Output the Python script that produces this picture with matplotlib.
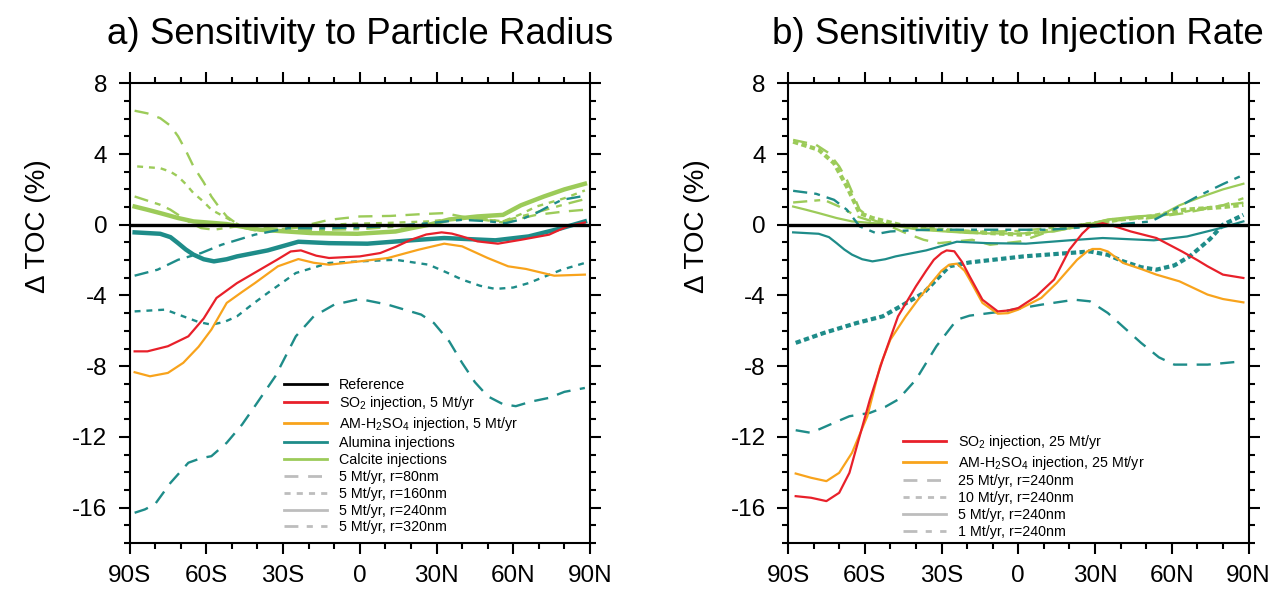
import numpy as np
import matplotlib
matplotlib.use('Agg')
import matplotlib.pyplot as plt
from matplotlib.lines import Line2D
from matplotlib.ticker import MultipleLocator

plt.rcParams['font.family'] = ['Liberation Sans', 'DejaVu Sans']
plt.rcParams['mathtext.fontset'] = 'custom'
plt.rcParams['mathtext.rm'] = 'Liberation Sans'
plt.rcParams['axes.unicode_minus'] = False

RED = '#e8202a'
ORANGE = '#f8a31c'
TEAL = '#1e8c89'
GREEN = '#9ccb59'
GREY = '#bdbdbd'

# ---- panel a: 5 Mt/yr, different radii ----
so2_a_lat = [-88, -83, -75, -67, -61, -56, -48, -39, -32, -27, -23, -17, -12, 0, 8, 14, 20, 26, 32, 36,
             40, 46, 54, 63, 74, 81, 88]
so2_a_val = [-7.16, -7.16, -6.87, -6.31, -5.3, -4.14, -3.30, -2.54, -1.95, -1.51, -1.45, -1.75, -1.88,
             -1.79, -1.60, -1.25, -0.85, -0.55, -0.43, -0.5, -0.66, -0.94, -1.07, -0.85, -0.56, -0.10, 0.13]

am_a_lat = [-88, -82, -75, -69, -63, -58, -52, -46, -41, -32, -24, -18, -12, 0, 11, 23, 33, 40, 45,
            50, 58, 65, 76, 88]
am_a_val = [-8.34, -8.57, -8.38, -7.81, -6.9, -5.93, -4.42, -3.8, -3.30, -2.35, -1.94, -2.15, -2.26,
            -2.07, -1.88, -1.41, -1.07, -1.22, -1.55, -1.88, -2.35, -2.50, -2.88, -2.82]

alu80_lat = [-88, -84, -80, -74, -67, -62, -58, -52, -46, -41, -33, -25, -18, -10, 0, 11, 24, 29, 35,
             40, 45, 50, 56, 61, 67, 74, 80, 88]
alu80_val = [-16.29, -16.1, -15.8, -14.6, -13.46, -13.2, -13.09, -12.33, -11.3, -10.26, -8.57, -6.31,
             -5.18, -4.52, -4.20, -4.52, -5.08, -5.56, -6.6, -7.81, -8.9, -9.70, -10.15, -10.26, -10.0,
             -9.79, -9.45, -9.23]

alu160_lat = [-88, -76, -69, -63, -58, -53, -48, -42, -36, -25, -12, 0, 14, 27, 34, 40, 47, 53, 60,
              66, 79, 88]
alu160_val = [-4.9, -4.8, -5.18, -5.5, -5.65, -5.5, -5.18, -4.5, -3.86, -2.73, -2.16, -2.07, -1.98,
              -2.26, -2.7, -3.10, -3.45, -3.63, -3.55, -3.30, -2.54, -2.16]

alu240_lat = [-88, -78, -74, -71, -68, -65, -61, -57, -52, -48, -36, -24, -12, 3, 20, 33, 53, 66, 79, 88]
alu240_val = [-0.43, -0.51, -0.7, -1.04, -1.4, -1.69, -1.95, -2.07, -1.95, -1.79, -1.45, -0.96, -1.04,
              -1.07, -0.88, -0.75, -0.88, -0.66, -0.19, 0.19]

alu320_lat = [-88, -79, -71, -62, -54, -41, -28, -15, 0, 15, 27, 40, 50, 57, 63, 69, 74, 79, 88]
alu320_val = [-2.88, -2.54, -1.98, -1.6, -1.13, -0.56, -0.19, -0.2, -0.15, -0.05, 0.09, 0.28, 0.2,
              0.09, 0.3, 0.66, 1.05, 1.41, 1.64]

cal80_lat = [-88, -83, -78, -74, -71, -68, -65, -61, -58, -55, -52, -48, -45, -39, -30, -20, -12, 0,
             12, 24, 33, 43, 56, 69, 80, 88]
cal80_val = [6.45, 6.3, 6.03, 5.6, 5.0, 4.2, 3.3, 2.4, 1.6, 1.0, 0.47, 0.05, -0.19, -0.38, -0.3, 0.0,
             0.28, 0.47, 0.5, 0.6, 0.66, 0.38, 0.13, 0.56, 0.75, 0.85]

cal160_lat = [-87, -78, -74, -71, -68, -65, -61, -58, -52, -45, -35, -20, -5, 10, 27, 43, 56, 63, 69,
              80, 88]
cal160_val = [3.3, 3.2, 3.0, 2.73, 2.3, 1.79, 1.3, 0.85, 0.38, -0.19, -0.3, -0.1, 0.05, 0.1, 0.19,
              0.43, 0.19, 0.6, 1.03, 1.5, 1.94]

cal240_lat = [-88, -83, -78, -71, -65, -52, -39, -19, -1, 14, 20, 27, 35, 46, 56, 63, 72, 80, 88]
cal240_val = [1.03, 0.85, 0.66, 0.38, 0.19, 0.04, -0.28, -0.47, -0.51, -0.38, -0.2, 0.0, 0.3, 0.47,
              0.56, 1.1, 1.6, 2.0, 2.32]

cal320_lat = [-88, -78, -74, -70, -66, -62, -57, -48, -35, -20, 0, 20, 35, 45, 56, 69, 80, 88]
cal320_val = [1.6, 1.13, 0.85, 0.47, 0.1, -0.19, -0.28, -0.09, -0.2, -0.3, -0.25, -0.05, 0.25, 0.35,
              0.2, 0.7, 1.15, 1.45]

# ---- panel b: r=240nm, different injection rates ----
so2_b_lat = [-87, -81, -75, -70, -66, -62, -58, -53, -47, -40, -36, -33, -30, -28, -25, -22, -19, -14,
             -8, -4, 0, 7, 14, 20, 25, 28, 33, 38, 44, 54, 64, 70, 74, 80, 88]
so2_b_val = [-15.35, -15.44, -15.63, -15.16, -14.03, -11.96, -9.89, -7.63, -5.18, -3.48, -2.6, -1.98,
             -1.6, -1.45, -1.5, -2.1, -2.92, -4.24, -4.90, -4.85, -4.71, -4.05, -3.10, -1.41, -0.5,
             -0.09, 0.09, -0.1, -0.38, -0.75, -1.51, -2.0, -2.35, -2.82, -3.01]

am_b_lat = [-87, -81, -75, -70, -65, -59, -54, -50, -44, -39, -34, -30, -27, -24, -21, -19, -14, -8,
            -4, 0, 9, 15, 23, 27, 29, 32, 35, 41, 48, 54, 63, 74, 80, 88]
am_b_val = [-14.07, -14.31, -14.5, -14.03, -12.9, -10.83, -8.0, -6.5, -5.18, -4.2, -3.30, -2.6, -2.26,
            -2.2, -2.6, -3.10, -4.42, -5.03, -5.0, -4.80, -4.14, -3.30, -1.98, -1.5, -1.37, -1.37,
            -1.51, -2.16, -2.5, -2.82, -3.20, -3.95, -4.2, -4.39]

alu25_lat = [-87, -81, -72, -66, -58, -52, -47, -40, -32, -24, -19, -6, 9, 22, 28, 35, 42, 48, 55, 61,
             74, 88]
alu25_val = [-11.62, -11.77, -11.2, -10.83, -10.64, -10.3, -9.89, -8.76, -6.87, -5.37, -5.14, -4.9,
             -4.52, -4.24, -4.33, -4.99, -5.9, -6.68, -7.5, -7.91, -7.91, -7.72]

alu10_lat = [-87, -76, -63, -53, -46, -37, -30, -27, -19, 2, 28, 35, 41, 48, 54, 61, 67, 71, 75, 80, 88]
alu10_val = [-6.68, -6.12, -5.55, -5.18, -4.61, -3.86, -2.8, -2.35, -2.13, -1.79, -1.51, -1.7, -2.07,
             -2.4, -2.54, -2.3, -1.79, -1.3, -0.8, 0.0, 0.56]

alu1_lat = [-88, -79, -72, -67, -62, -55, -50, -40, -24, 1, 12, 30, 52, 60, 70, 80, 88]
alu1_val = [1.92, 1.75, 1.41, 0.85, -0.09, -0.51, -0.38, -0.3, -0.28, -0.28, -0.28, -0.1, 0.19, 0.8,
            1.6, 2.3, 2.82]

cal25_lat = [-88, -79, -74, -70, -67, -62, -57, -50, -44, -37, -31, -18, -11, 1, 12, 25, 39, 50, 65,
             80, 88]
cal25_val = [4.8, 4.52, 4.05, 3.3, 2.54, 0.85, 0.28, -0.09, -0.47, -0.85, -1.04, -0.85, -1.13, -0.94,
             -0.38, 0.0, 0.38, 0.35, 0.66, 1.1, 1.5]

cal10_lat = [-88, -78, -72, -67, -62, -57, -44, -31, -11, 1, 14, 26, 40, 52, 65, 80, 88]
cal10_val = [4.7, 4.24, 3.48, 2.16, 0.66, 0.38, -0.09, -0.28, -0.47, -0.56, -0.3, 0.0, 0.3, 0.47, 0.85,
             1.0, 1.13]

cal1_lat = [-88, -76, -70, -63, -57, -44, -30, -15, 0, 15, 30, 45, 60, 75, 88]
cal1_val = [1.26, 1.41, 1.03, 0.47, 0.19, -0.09, -0.3, -0.4, -0.35, -0.15, 0.1, 0.35, 0.6, 1.0, 1.25]

xticks = [-90, -60, -30, 0, 30, 60, 90]
xticklabels = ['90S', '60S', '30S', '0', '30N', '60N', '90N']
yticks = [-16, -12, -8, -4, 0, 4, 8]

# line styles
LONG = (0, (6, 4))
SHORT = (0, (2.5, 2.5))
DDOT = (0, (6, 3, 2.5, 3))
DOTS = (0, (1.3, 0.8))


def style_axes(ax, title):
    ax.set_xlim(-90, 90)
    ax.set_ylim(-18, 8)
    ax.set_xticks(xticks)
    ax.set_xticklabels(xticklabels)
    ax.set_yticks(yticks)
    ax.xaxis.set_minor_locator(MultipleLocator(10))
    ax.yaxis.set_minor_locator(MultipleLocator(1))
    ax.tick_params(which='both', direction='out', top=True, right=True, width=1.5,
                   labelsize=17.5, pad=8)
    ax.tick_params(which='major', length=8)
    ax.tick_params(which='minor', length=4.5)
    for s in ax.spines.values():
        s.set_linewidth(1.5)
    ax.set_ylabel('Δ TOC (%)', fontsize=20)
    ax.yaxis.set_label_coords(-0.17, 0.69)
    ax.set_title(title, fontsize=26.5, pad=28)


fig = plt.figure(figsize=(12.71, 5.93), dpi=100)
ax1 = fig.add_axes([0.1019, 0.0843, 0.3623, 0.7752])
ax2 = fig.add_axes([0.6200, 0.0843, 0.3623, 0.7752])

# panel a
ax1.axhline(0, color='black', lw=2.4, zorder=5)
ax1.plot(cal80_lat, cal80_val, color=GREEN, lw=1.7, ls=LONG)
ax1.plot(cal160_lat, cal160_val, color=GREEN, lw=1.7, ls=SHORT)
ax1.plot(cal320_lat, cal320_val, color=GREEN, lw=1.7, ls=DDOT)
ax1.plot(cal240_lat, cal240_val, color=GREEN, lw=3.2)
ax1.plot(alu80_lat, alu80_val, color=TEAL, lw=1.7, ls=LONG)
ax1.plot(alu160_lat, alu160_val, color=TEAL, lw=1.7, ls=SHORT)
ax1.plot(alu320_lat, alu320_val, color=TEAL, lw=1.7, ls=DDOT)
ax1.plot(alu240_lat, alu240_val, color=TEAL, lw=3.2)
ax1.plot(am_a_lat, am_a_val, color=ORANGE, lw=1.6)
ax1.plot(so2_a_lat, so2_a_val, color=RED, lw=1.6)
style_axes(ax1, 'a) Sensitivity to Particle Radius')

h1 = [Line2D([], [], color='black', lw=2),
      Line2D([], [], color=RED, lw=2),
      Line2D([], [], color=ORANGE, lw=2),
      Line2D([], [], color=TEAL, lw=2),
      Line2D([], [], color=GREEN, lw=2),
      Line2D([], [], color=GREY, lw=2, ls=(0, (5, 3.5))),
      Line2D([], [], color=GREY, lw=2, ls=(0, (2.2, 2.2))),
      Line2D([], [], color=GREY, lw=2),
      Line2D([], [], color=GREY, lw=2, ls=(0, (5, 3, 2.2, 3)))]
l1 = ['Reference', 'SO$_\\mathregular{2}$ injection, 5 Mt/yr',
      'AM-H$_\\mathregular{2}$SO$_\\mathregular{4}$ injection, 5 Mt/yr',
      'Alumina injections', 'Calcite injections',
      '5 Mt/yr, r=80nm', '5 Mt/yr, r=160nm', '5 Mt/yr, r=240nm', '5 Mt/yr, r=320nm']
ax1.legend(h1, l1, loc='upper left', bbox_to_anchor=(0.335, 0.36), frameon=False,
           fontsize=10.3, handlelength=3.0, handletextpad=0.85, labelspacing=0.2, borderpad=0,
           borderaxespad=0)

# panel b
ax2.axhline(0, color='black', lw=2.4, zorder=5)
ax2.plot(cal25_lat, cal25_val, color=GREEN, lw=1.7, ls=LONG)
ax2.plot(cal10_lat, cal10_val, color=GREEN, lw=3.0, ls=DOTS)
ax2.plot(cal1_lat, cal1_val, color=GREEN, lw=1.7, ls=DDOT)
ax2.plot(cal240_lat, cal240_val, color=GREEN, lw=1.6)
ax2.plot(alu25_lat, alu25_val, color=TEAL, lw=1.7, ls=LONG)
ax2.plot(alu10_lat, alu10_val, color=TEAL, lw=3.0, ls=DOTS)
ax2.plot(alu1_lat, alu1_val, color=TEAL, lw=1.7, ls=DDOT)
ax2.plot(alu240_lat, alu240_val, color=TEAL, lw=1.6)
ax2.plot(am_b_lat, am_b_val, color=ORANGE, lw=1.6)
ax2.plot(so2_b_lat, so2_b_val, color=RED, lw=1.6)
style_axes(ax2, 'b) Sensitivitiy to Injection Rate')

h2 = [Line2D([], [], color=RED, lw=2),
      Line2D([], [], color=ORANGE, lw=2),
      Line2D([], [], color=GREY, lw=2, ls=(0, (5, 3.5))),
      Line2D([], [], color=GREY, lw=2, ls=(0, (2.2, 2.2))),
      Line2D([], [], color=GREY, lw=2),
      Line2D([], [], color=GREY, lw=2, ls=(0, (5, 3, 2.2, 3)))]
l2 = ['SO$_\\mathregular{2}$ injection, 25 Mt/yr',
      'AM-H$_\\mathregular{2}$SO$_\\mathregular{4}$ injection, 25 Mt/yr',
      '25 Mt/yr, r=240nm', '10 Mt/yr, r=240nm', '5 Mt/yr, r=240nm', '1 Mt/yr, r=240nm']
ax2.legend(h2, l2, loc='upper left', bbox_to_anchor=(0.25, 0.24), frameon=False,
           fontsize=10.3, handlelength=3.0, handletextpad=0.85, labelspacing=0.2, borderpad=0,
           borderaxespad=0)

fig.savefig('out.png', dpi=100)
